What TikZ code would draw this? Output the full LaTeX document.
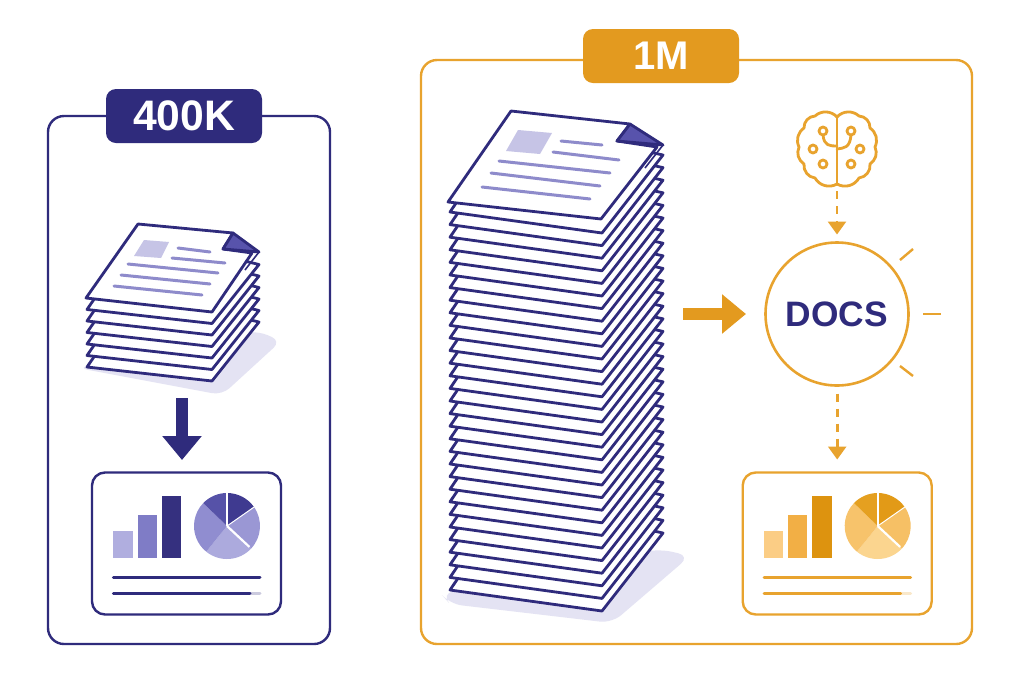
\documentclass[tikz,border=0pt]{standalone}
\usepackage{fontspec}
\setmainfont{Liberation Sans}
\usepackage{xcolor}
\usetikzlibrary{arrows.meta, positioning}

\definecolor{navy}{HTML}{2F2B7C}
\definecolor{amber}{HTML}{E8A32E}
\definecolor{amberdeep}{HTML}{E39A1F}
\definecolor{shadowtint}{HTML}{E4E3F3}
\definecolor{foldfill}{HTML}{5853AC}
\definecolor{glyphline}{HTML}{8E8BCB}
\definecolor{glyphbox}{HTML}{C6C4E6}
% report tones: bars A,B,C and pie D,E,F,G,H
\definecolor{navyA}{HTML}{B0AEDF}
\definecolor{navyB}{HTML}{7F7CC6}
\definecolor{navyC}{HTML}{35307F}
\definecolor{navyD}{HTML}{3F3A90}
\definecolor{navyE}{HTML}{9A97D4}
\definecolor{navyF}{HTML}{ACAADD}
\definecolor{navyG}{HTML}{908DD0}
\definecolor{navyH}{HTML}{5652A8}
\definecolor{amberA}{HTML}{FBCD85}
\definecolor{amberB}{HTML}{F2AF45}
\definecolor{amberC}{HTML}{DD930F}
\definecolor{amberD}{HTML}{E29A17}
\definecolor{amberE}{HTML}{F6C065}
\definecolor{amberF}{HTML}{FBD58F}
\definecolor{amberG}{HTML}{F7C36B}
\definecolor{amberH}{HTML}{E5A020}

\def\px{0.75pt}

\begin{document}
\begin{tikzpicture}[
    x=0.75pt, y=-0.75pt,
    frame/.style={rectangle, draw, line width=2.4*\px, rounded corners=16*\px, outer sep=0pt, fill=white},
    badge/.style={rectangle, rounded corners=10*\px, minimum width=156*\px, minimum height=54*\px, text=white, font=\bfseries},
    sheet/.style={draw=navy, fill=white, line width=2.8*\px, line join=round},
    glyph/.style={draw=glyphline, line width=3*\px, line cap=round},
    blockarrow/.style={line width=12*\px, -{Triangle[length=24*\px, width=38*\px]}},
    dasharrow/.style={draw=amber, line width=2.6*\px, dash pattern=on 8*\px off 7*\px, -{Triangle[length=13*\px, width=18*\px]}},
    rule/.style={line width=3*\px, line cap=round},
    ray/.style={draw=amber, line width=2.4*\px},
    brainline/.style={draw=amber, line width=2.8*\px, line cap=round, line join=round}
]
\useasboundingbox (0,0) rectangle (1024,683);
\fill[white] (0,0) rectangle (1024,683);

% Frames and badges
\node[frame, draw=navy, minimum width=282*\px, minimum height=528*\px] (smallframe) at (189,380) {};
\node[frame, draw=amber, minimum width=551*\px, minimum height=584*\px] (bigframe) at (696.5,352) {};
\node[badge, fill=navy, font=\fontsize{32}{32}\selectfont\bfseries] (smallbadge) at (184,116) {400K};
\node[badge, fill=amberdeep, font=\fontsize{30}{30}\selectfont\bfseries] (bigbadge) at (661,56) {1M};

% Small stack
\fill[shadowtint, rounded corners=10*\px] (78,368) -- (222,395) -- (281,341) -- (258,331) -- (200,340) -- cycle;
\foreach \k in {0,...,5}
  \draw[sheet, yshift=\k*11.5*\px] (87,367) -- (138,293) -- (259,322) -- (212,381) -- cycle;
\draw[sheet] (86,298) -- (138,224) -- (233,233) -- (223,249) -- (252,253) -- (212,312) -- cycle;
\draw[draw=navy, line width=1.6*\px] (259,252) -- (245,270);
\draw[sheet, fill=foldfill] (233,233) -- (259,252) -- (223,249) -- cycle;
\fill[glyphbox] (144,240) -- (169,242) -- (161,258) -- (134,256) -- cycle;
\draw[glyph] (178,248) -- (210,252);
\draw[glyph] (172,258) -- (225,263);
\draw[glyph] (128,264) -- (218,273);
\draw[glyph] (121,275) -- (210,284);
\draw[glyph] (114,286) -- (202,295);
\coordinate (smallbase) at (182,398);

% Big stack
\fill[shadowtint, rounded corners=12*\px] (441,594) -- (450,604) -- (612,623) -- (690,556) -- (660,549) -- (600,560) -- cycle;
\foreach \k in {0,...,30}
  \draw[sheet, yshift=\k*12.6*\px] (450,590) -- (511,500) -- (663,533) -- (602,611) -- cycle;
\draw[sheet] (448,202) -- (511,111) -- (630,124) -- (617,141) -- (657,147) -- (601,219) -- cycle;
\draw[draw=navy, line width=1.6*\px] (663,145) -- (645,168);
\draw[sheet, fill=foldfill] (630,124) -- (663,145) -- (617,141) -- cycle;
\fill[glyphbox] (518,130) -- (552,133) -- (540,154) -- (506,151) -- cycle;
\draw[glyph] (561,141) -- (602,145);
\draw[glyph] (553,152) -- (619,160);
\draw[glyph] (499,161) -- (610,173);
\draw[glyph] (491,173) -- (600,186);
\draw[glyph] (482,187) -- (590,199);
\coordinate (bigside) at (683,314);

% Reports
\foreach \rname/\dx/\tone in {smallreport/0/navy, bigreport/650.7/amber} {
  \begin{scope}[xshift=\dx*\px]
    \node[frame, draw=\tone, minimum width=189*\px, minimum height=142*\px, rounded corners=13*\px] (\rname) at (186.5,543.5) {};
    \fill[\tone A] (113.3,531) rectangle (132.7,558);
    \fill[\tone B] (137.7,515) rectangle (156.7,558);
    \fill[\tone C] (161.7,495.7) rectangle (181,558);
    \coordinate (\rname pie) at (227,526);
    \fill[\tone D] (\rname pie) -- ++(90:24.75pt) arc[start angle=90, end angle=35, radius=24.75pt] -- cycle;
    \fill[\tone E] (\rname pie) -- ++(35:24.75pt) arc[start angle=35, end angle=-43, radius=24.75pt] -- cycle;
    \fill[\tone F] (\rname pie) -- ++(-43:24.75pt) arc[start angle=-43, end angle=-129, radius=24.75pt] -- cycle;
    \fill[\tone G] (\rname pie) -- ++(-129:24.75pt) arc[start angle=-129, end angle=-224, radius=24.75pt] -- cycle;
    \fill[\tone H] (\rname pie) -- ++(136:24.75pt) arc[start angle=136, end angle=90, radius=24.75pt] -- cycle;
    \draw[white, line width=2.2*\px] (\rname pie) -- ++(90:25.5pt);
    \draw[white, line width=2.2*\px] (\rname pie) -- ++(-43:23pt);
    \draw[white, line width=1*\px] (\rname pie) -- ++(35:25.5pt);
    \draw[rule, \tone] (113.3,577) -- (260,577);
    \draw[rule, \tone!25] (250,593) -- (260,593);
    \draw[rule, \tone] (113.3,593) -- (250,593);
  \end{scope}
}

% Docs circle and rays
\node[circle, draw=amber, line width=2.6*\px, minimum size=143*\px, outer sep=0pt, text=navy, font=\fontsize{26.5}{26.5}\selectfont\bfseries] (docs) at (837,314) {DOCS};
\draw[ray] (900,260) -- (913,249);
\draw[ray] (923,314) -- (941,314);
\draw[ray] (900,366) -- (913,376);

% Brain
\coordinate (brainbase) at (837,191);
\foreach \s/\d in {1/right,-1/left}
  \draw[brainline] (837,117) to[bend \d=45] ({837-\s*22},116) to[bend \d=45] ({837-\s*33},128)
    to[bend \d=40] ({837-\s*38},147) to[bend \d=40] ({837-\s*33},164)
    to[bend \d=45] ({837-\s*22},178) to[bend \d=45] (837,184);
\draw[brainline] (837,117) -- (837,184);
\draw[brainline] (823,135) .. controls (824,146) and (830,146) .. (837,146);
\draw[brainline] (851,135) .. controls (850,148) and (844,148) .. (837,149);
\foreach \bx/\by in {823/131, 851/131, 813/149, 860/149, 823/164, 851/164}
  \draw[brainline, fill=white] (\bx,\by) circle[radius=4*\px];

% Arrows
\draw[blockarrow, navy] (smallbase) -- (182,460);
\draw[blockarrow, amberdeep] (bigside) -- (746,314);
\draw[dasharrow, shorten >=8*\px] (brainbase) -- (brainbase |- docs.north);
\draw[dasharrow, shorten <=8*\px, shorten >=13*\px] (bigreport.north |- docs.south) -- (bigreport.north);

\end{tikzpicture}
\end{document}
